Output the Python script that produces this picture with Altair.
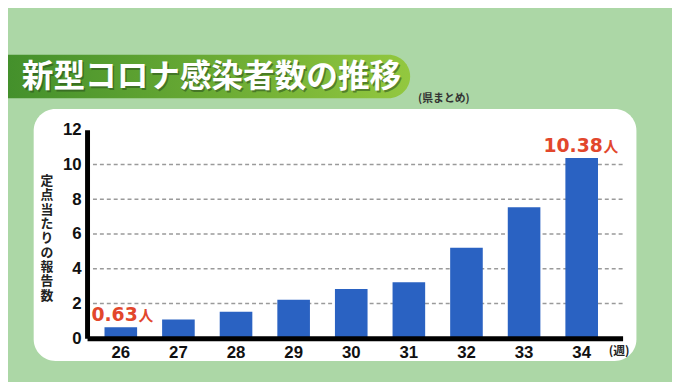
import altair as alt
import pandas as pd

# ---- data ----
weeks = ["26", "27", "28", "29", "30", "31", "32", "33", "34"]
values = [0.63, 1.08, 1.52, 2.22, 2.84, 3.22, 5.21, 7.54, 10.38]
grid_values = [2, 4, 6, 8, 10]
y_ticks = [0, 2, 4, 6, 8, 10, 12]
label_weeks = ["26", "34"]
label_texts = ["0.63", "10.38"]
label_values = [0.63, 10.38]
unit_text = "人"
title_text = "新型コロナ感染者数の推移"
subtitle_text = "(県まとめ)"
y_title = "定点当たりの報告数"
x_unit = "(週)"

W, H = 542, 211
JP = "Noto Sans CJK JP"

bars_df = pd.DataFrame({"week": weeks, "value": values})
grid_df = pd.DataFrame({"g": grid_values})
lab_df = pd.DataFrame({"week": label_weeks, "value": label_values, "text": label_texts})
one = pd.DataFrame({"a": [0]})

xscale = alt.Scale(domain=weeks, paddingInner=0.434, paddingOuter=0.365, align=0.415)
yscale = alt.Scale(domain=[0, 12], nice=False)

x_axis = alt.Axis(title=None, labelAngle=0, labelFontSize=17, labelFontWeight="bold",
                  labelColor="#111111", labelFont="Liberation Sans", ticks=False, grid=False,
                  domainColor="black", domainWidth=5, labelPadding=6, zindex=1)
y_axis = alt.Axis(title=None, values=y_ticks, labelFontSize=17, labelFontWeight="bold",
                  labelColor="#111111", labelFont="Liberation Sans", ticks=False, grid=False,
                  labelOverlap=False, labelFlush=False,
                  domainColor="black", domainWidth=5, labelPadding=6, zindex=1)

panel = alt.Chart(one).mark_rect(color="white", cornerRadius=22).encode(
    x=alt.value(-54), x2=alt.value(556), y=alt.value(-21), y2=alt.value(234)
)

banner = alt.Chart(one).mark_rect(
    cornerRadius=22,
    color=alt.Gradient(
        gradient="linear",
        stops=[alt.GradientStop(color="#3e8c2a", offset=0),
               alt.GradientStop(color="#6fae35", offset=0.6),
               alt.GradientStop(color="#93c83f", offset=1)],
        x1=0, x2=1, y1=0, y2=0,
    ),
).encode(x=alt.value(-110), x2=alt.value(327), y=alt.value(-76), y2=alt.value(-32))

title_shadow = alt.Chart(one).mark_text(
    text=title_text, font=JP, fontSize=32, fontWeight="bold", color="#2a4f1c",
    opacity=0.55, align="left", baseline="middle", dx=1.5, dy=1.5,
).encode(x=alt.value(-66), y=alt.value(-53))

title = alt.Chart(one).mark_text(
    text=title_text, font=JP, fontSize=32, fontWeight="bold", color="white",
    align="left", baseline="middle",
).encode(x=alt.value(-66), y=alt.value(-53))

subtitle = alt.Chart(one).mark_text(
    text=subtitle_text, font=JP, fontSize=11, fontWeight="bold", color="#333333",
    align="left", baseline="middle",
).encode(x=alt.value(335), y=alt.value(-31.5))

grid = alt.Chart(grid_df).mark_rule(
    color="#9a9a9a", strokeWidth=1.5, strokeDash=[4, 3]
).encode(y=alt.Y("g:Q", scale=yscale, axis=y_axis))

bars = alt.Chart(bars_df).mark_bar(color="#2a62c2").encode(
    x=alt.X("week:N", scale=xscale, sort=weeks, axis=x_axis),
    y=alt.Y("value:Q", scale=yscale, axis=y_axis),
)

def num_label(wk, dx_num, dx_unit):
    base = alt.Chart(lab_df).transform_filter(alt.datum.week == wk)
    num = base.mark_text(
        font="DejaVu Sans", fontSize=19, fontWeight="bold", color="#e2472c",
        align="right", baseline="alphabetic", dx=dx_num, dy=-6,
    ).encode(x=alt.X("week:N", scale=xscale, sort=weeks, axis=x_axis),
             y=alt.Y("value:Q", scale=yscale, axis=y_axis),
             text="text:N")
    unit = base.mark_text(
        font=JP, fontSize=15, fontWeight="bold", color="#e2472c",
        align="left", baseline="alphabetic", dx=dx_unit, dy=-6, text=unit_text,
    ).encode(x=alt.X("week:N", scale=xscale, sort=weeks, axis=x_axis),
             y=alt.Y("value:Q", scale=yscale, axis=y_axis))
    return num + unit

lab26 = num_label("26", 17.1, 18)
lab34 = num_label("34", 21.4, 22)

ytitle = alt.Chart(one).mark_text(
    text=list(y_title), font=JP, fontSize=13, fontWeight="bold", color="#222222",
    lineHeight=14.5, align="center", baseline="middle",
).encode(x=alt.value(-40.5), y=alt.value(52))

xunit = alt.Chart(one).mark_text(
    text=x_unit, font=JP, fontSize=12, fontWeight="bold", color="#222222",
    align="left", baseline="middle",
).encode(x=alt.value(528), y=alt.value(224))

chart = alt.layer(
    panel, banner, title_shadow, title, subtitle, grid, bars, lab26, lab34, ytitle, xunit
).properties(
    width=W, height=H, autosize="none",
    padding={"left": 80, "top": 121, "right": 50, "bottom": 42},
).configure(background="#acd7a6").configure_view(strokeWidth=0)

chart.save("out.html", embed_options={"renderer": "svg", "actions": False})
